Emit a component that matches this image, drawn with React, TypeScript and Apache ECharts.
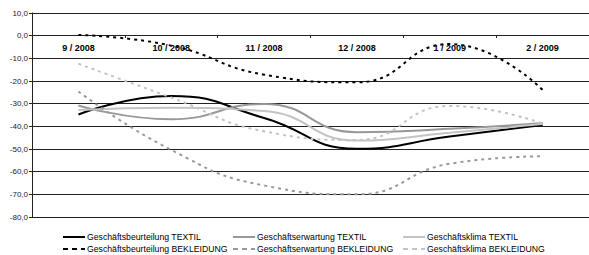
import React, { useEffect, useRef } from "react";
import * as echarts from "echarts";

const categories = ["9 / 2008", "10 / 2008", "11 / 2008", "12 / 2008", "1 / 2009", "2 / 2009"];
const beurteilungTextil = [-34.8, -26.6, -36.3, -49.9, -44.5, -39.4];
const erwartungTextil = [-30.8, -36.9, -30.1, -42.6, -41.1, -38.5];
const klimaTextil = [-32.8, -31.8, -33.2, -46.3, -42.8, -39.0];
const beurteilungBekleidung = [0.3, -4.4, -17.2, -20.6, -3.7, -23.9];
const erwartungBekleidung = [-24.6, -50.4, -66.1, -70.0, -56.5, -53.2];
const klimaBekleidung = [-12.4, -27.3, -42.2, -46.0, -31.0, -38.8];
const seriesNames = [
  "Geschäftsbeurteilung TEXTIL",
  "Geschäftserwartung TEXTIL",
  "Geschäftsklima TEXTIL",
  "Geschäftsbeurteilung BEKLEIDUNG",
  "Geschäftserwartung BEKLEIDUNG",
  "Geschäftsklima BEKLEIDUNG",
];

const SOLID_ICON = "path://M0,0h22v2h-22z";
const DASH_ICON = "path://M0,0h5v2h-5zM9,0h5v2h-5zM18,0h4v2h-4z";

export default function App() {
  const ref = useRef<HTMLDivElement>(null);
  useEffect(() => {
    if (!ref.current) return;
    const chart = echarts.init(ref.current, null, { renderer: "svg" });
    const font = "'Liberation Sans', Arial, sans-serif";
    const mk = (name: string, data: number[], color: string, dashed: boolean) => ({
      name,
      type: "line",
      data,
      smooth: 0.5,
      symbol: "none",
      lineStyle: { color, width: 2, type: dashed ? [3, 4] : "solid" },
      itemStyle: { color },
    });
    const legendCol = (left: number, a: number, b: number) => ({
      left,
      top: 232,
      orient: "vertical",
      itemGap: 2,
      itemWidth: 22,
      itemHeight: 2,
      padding: 0,
      selectedMode: false,
      data: [
        { name: seriesNames[a], icon: SOLID_ICON },
        { name: seriesNames[b], icon: DASH_ICON },
      ],
      textStyle: { fontSize: 8.7, fontFamily: font, color: "#000", lineHeight: 10, padding: [0, 0, 0, -3] },
    });
    chart.setOption({
      animation: false,
      grid: { left: 32, top: 13, height: 204, right: -12, containLabel: false },
      xAxis: {
        type: "category",
        data: categories,
        boundaryGap: true,
        position: "bottom",
        offset: -182,
        axisLine: { onZero: false, lineStyle: { color: "#222", width: 1 } },
        axisTick: { show: true, length: 3, inside: false, lineStyle: { color: "#222" } },
        axisLabel: { color: "#000", fontWeight: "bold", fontSize: 9, fontFamily: font, margin: 8, interval: 0 },
        splitLine: { show: false },
      },
      yAxis: {
        type: "value",
        min: -80,
        max: 10,
        interval: 10,
        axisLine: { show: true, lineStyle: { color: "#222", width: 1 } },
        axisTick: { show: true, length: 3, lineStyle: { color: "#222" } },
        axisLabel: {
          color: "#222",
          fontSize: 8,
          fontFamily: font,
          margin: 4,
          formatter: (v: number) => v.toFixed(1).replace(".", ","),
        },
        splitLine: { show: true, lineStyle: { color: "#222", width: 1 } },
      },
      legend: [legendCol(63, 0, 3), legendCol(233, 1, 4), legendCol(403, 2, 5)],
      series: [
        mk(seriesNames[0], beurteilungTextil, "#000000", false),
        mk(seriesNames[1], erwartungTextil, "#999999", false),
        mk(seriesNames[2], klimaTextil, "#c4c4c4", false),
        mk(seriesNames[3], beurteilungBekleidung, "#000000", true),
        mk(seriesNames[4], erwartungBekleidung, "#999999", true),
        mk(seriesNames[5], klimaBekleidung, "#c4c4c4", true),
      ],
    });
    return () => chart.dispose();
  }, []);
  return <div ref={ref} style={{ width: 589, height: 255, position: "absolute", left: 0, top: 0 }} />;
}
